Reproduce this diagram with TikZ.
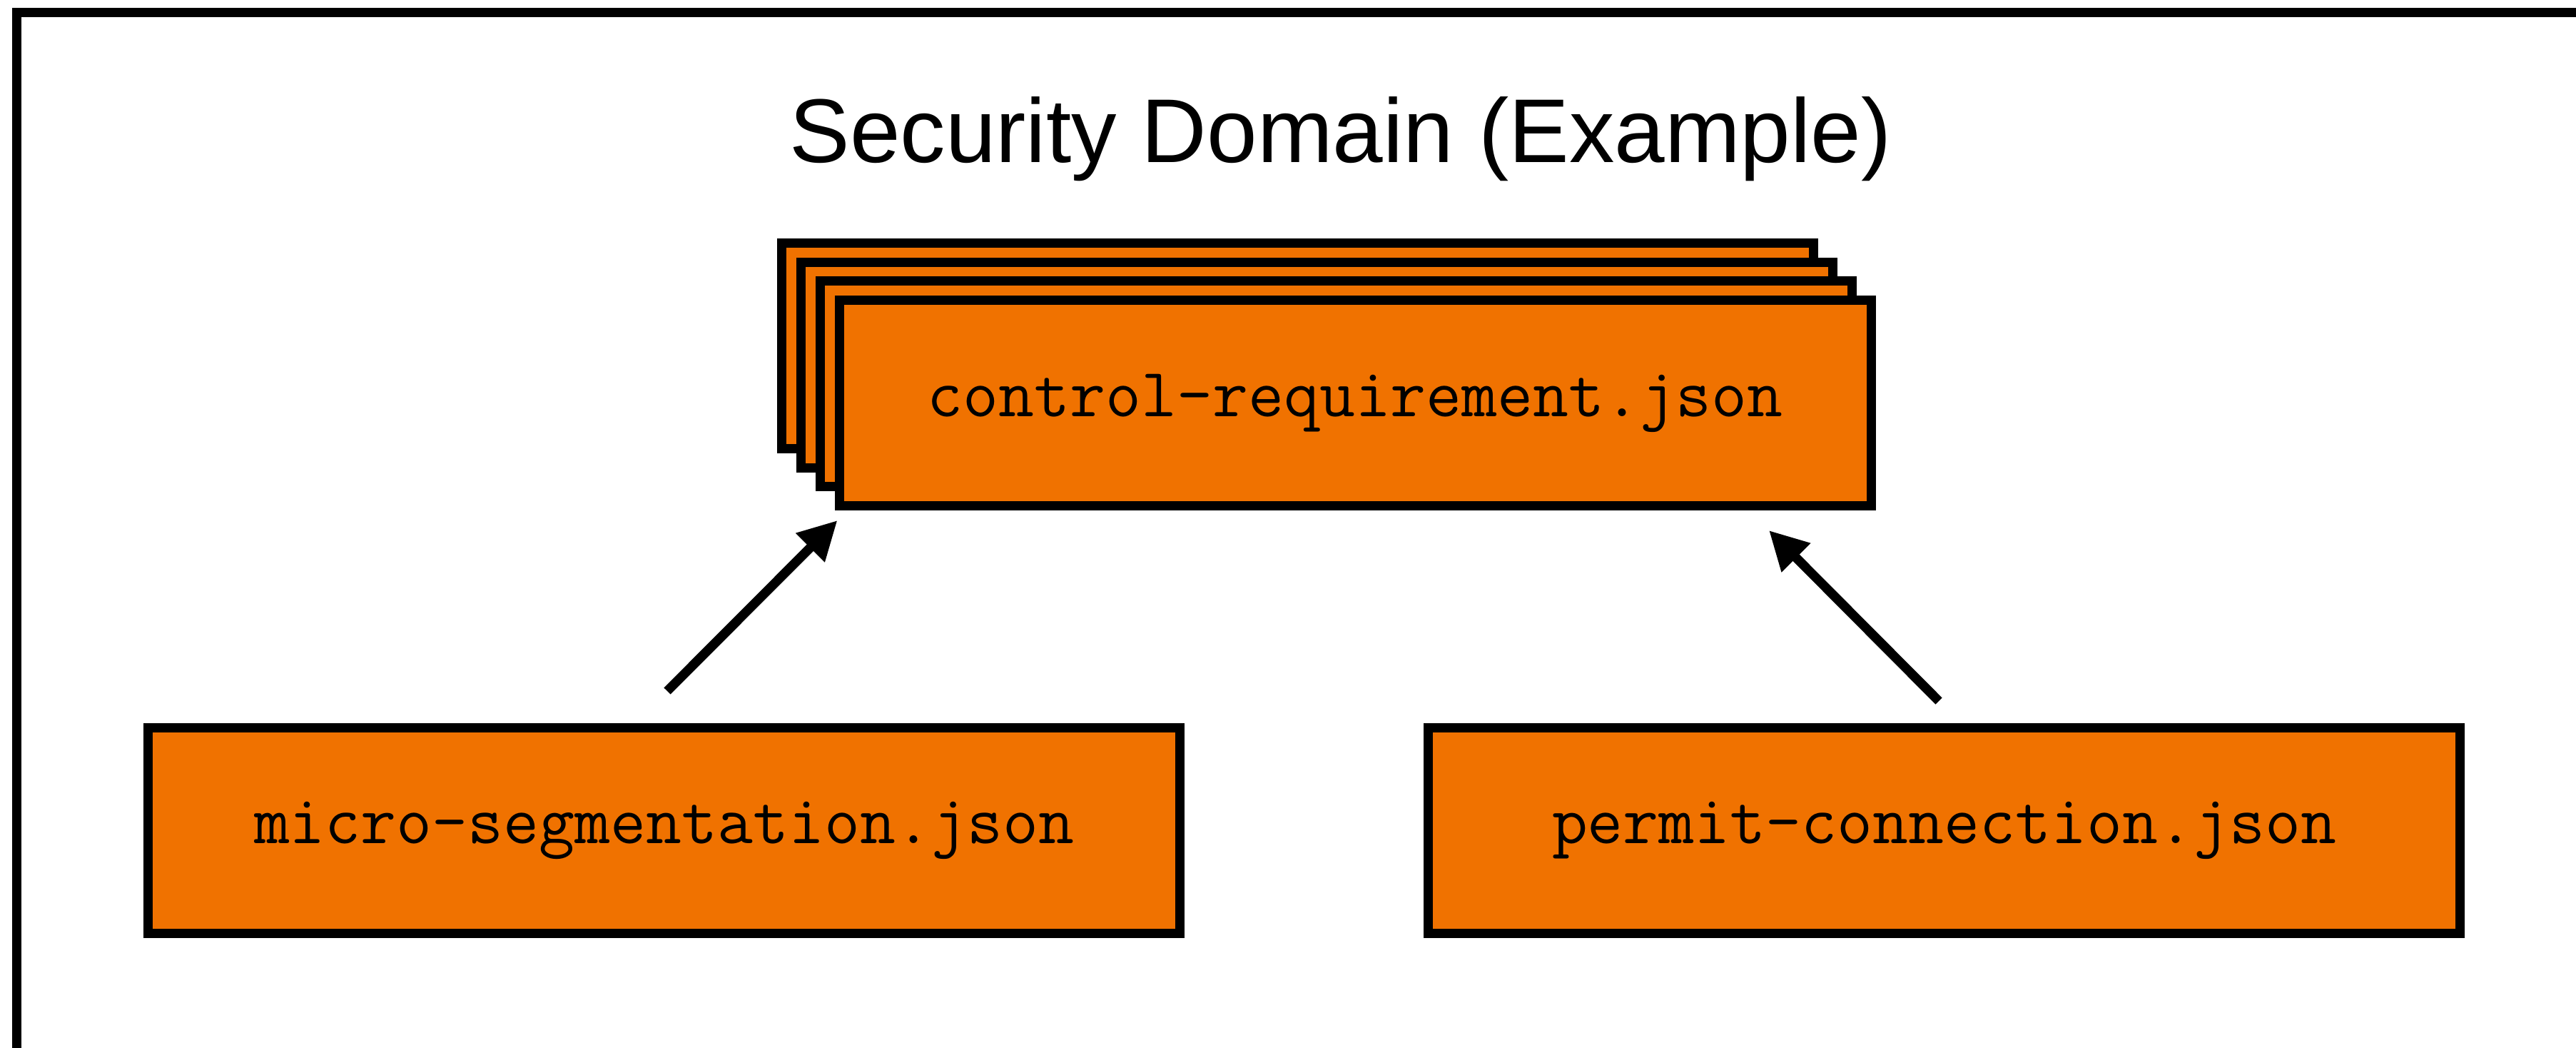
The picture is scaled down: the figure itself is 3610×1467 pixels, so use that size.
\documentclass[tikz,border=0pt]{standalone}
\usepackage{fontspec}
\setsansfont{Liberation Sans}
\usepackage{tikz}
\usetikzlibrary{arrows.meta}
\usetikzlibrary{calc}

\definecolor{fileorange}{RGB}{240,114,0}

\begin{document}
\begin{tikzpicture}[
        x=0.1mm, y=0.1mm,
        frameline/.style={draw=black, line width=1.3mm},
        filebox/.style={rectangle, draw=black, line width=1.3mm, fill=fileorange,
            minimum width=144.6mm, minimum height=28.8mm,
            font=\fontsize{27.6}{32}\selectfont\ttfamily},
        link/.style={-{Triangle[length=5.4mm, width=5.4mm]}, line width=1.3mm, line cap=butt}
    ]
        \useasboundingbox (0,0) rectangle (3610,1467);

        % --- Marco del dominio ---
        \draw[frameline] (23.5,1449.5) rectangle (3640,-30);
        \node[font=\fontsize{36.1}{42}\selectfont\sffamily, anchor=base] (title) at (1878.5,1239) {Security Domain (Example)};

        % --- Pila de requisitos de control ---
        \def\stackstep{26.7} % Desplazamiento entre copias
        \coordinate (crpos) at (1899,902.5);
        \foreach \k in {3,2,1}
            \node[filebox] (cr\k) at ($(crpos)+(-\k*\stackstep,\k*\stackstep)$) {};
        \node[filebox] (cr) at (crpos) {control-requirement.json};

        % --- Ficheros de origen ---
        \node[filebox] (micro) at (930.5,303.5) {micro-segmentation.json};
        \node[filebox] (permit) at (2724.5,303.5) {permit-connection.json};

        % --- Flechas ---
        \coordinate (microtail) at ($(micro.north)+(4.5,45)$);
        \coordinate (microtip) at ($(cr.south west)+(4,-14)$);
        \coordinate (permittail) at ($(permit.north)+(-7.5,31)$);
        \coordinate (permittip) at ($(cr.south)+(580,-28)$);
        \draw[link] (microtail) -- (microtip);
        \draw[link] (permittail) -- (permittip);

    \end{tikzpicture}
\end{document}
